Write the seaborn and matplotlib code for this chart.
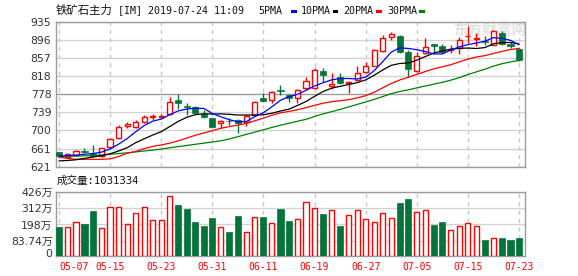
import matplotlib
matplotlib.use("Agg")
import matplotlib.pyplot as plt
from matplotlib.patches import Rectangle
import numpy as np
import pandas as pd
import seaborn as sns

# ---------------- data ----------------
opens = [652, 643, 646, 654, 650, 645, 663, 684, 710, 708,
         718, 728, 728, 735, 765, 752, 750, 735, 726, 715,
         721, 722, 718, 733, 770, 765, 787, 776, 769, 791,
         791, 829, 795, 815, 802, 809, 827, 840, 872, 901,
         905, 869, 829, 867, 886, 882, 873, 877, 903, 897,
         894, 885, 911, 886, 875]
highs = [653, 650, 658, 661, 668, 662, 684, 711, 717, 722,
         733, 735, 735, 771, 778, 758, 752, 744, 727, 722,
         726, 724, 733, 764, 780, 785, 798, 778, 789, 816,
         834, 834, 824, 824, 806, 838, 848, 876, 906, 913,
         906, 874, 870, 899, 887, 887, 884, 901, 926, 910,
         904, 918, 915, 892, 877]
lows = [643, 640, 645, 650, 643, 643, 661, 682, 705, 704,
        716, 722, 726, 733, 747, 733, 737, 726, 704, 704,
        711, 693, 709, 731, 762, 758, 776, 762, 758, 787,
        789, 805, 790, 800, 780, 806, 824, 838, 870, 896,
        868, 816, 826, 864, 867, 867, 867, 865, 888, 882,
        884, 884, 885, 877, 850]
closes = [645, 648, 656, 653, 645, 661, 682, 708, 713, 718,
          729, 730, 730, 762, 758, 750, 738, 728, 708, 721,
          719, 715, 731, 762, 763, 783, 785, 770, 787, 807,
          830, 820, 801, 802, 805, 824, 840, 874, 900, 908,
          870, 833, 861, 880, 882, 870, 876, 895, 904, 899,
          890, 915, 886, 883, 852]

ma5 = [644, 645, 646, 648, 649.4, 652.6, 659.4, 669.8, 681.8, 696.4,
       710, 719.6, 724, 733.8, 741.8, 746, 747.6, 747.2, 736.4, 729,
       722.8, 718.2, 718.8, 729.6, 738, 750.8, 764.8, 772.6, 777.6, 786.4,
       795.8, 802.8, 809, 812, 812, 811, 815, 829, 848.6, 869.2,
       878.4, 877, 874.4, 870.4, 865.2, 865.2, 873.8, 880.6, 885.4, 888.8,
       892.8, 900.6, 898.8, 894.6, 885.2]
ma10 = [633.5, 634.5, 636, 639, 642, 645, 649, 655, 662, 672.9,
        681.3, 689.5, 696.9, 707.8, 719.1, 728, 733.6, 735.6, 735.1, 735.4,
        734.4, 732.9, 733, 733, 733.5, 736.8, 741.5, 745.7, 753.6, 762.2,
        773.3, 783.8, 791, 795, 799, 803, 809, 819, 830.5, 840.5,
        844.5, 845.5, 851.7, 859.5, 867.2, 871.8, 875.4, 877.5, 877.9, 877,
        879, 887.2, 889.7, 890, 887]
ma20 = [642, 639, 637, 637, 637, 637, 638, 643, 650, 654,
        660, 665, 668, 672, 677, 683, 689, 694, 699, 704.2,
        707.9, 711.2, 715, 720.4, 726.3, 732.4, 737.6, 740.7, 744.4, 748.8,
        753.9, 758.4, 761.8, 763.8, 766.1, 769.8, 774.9, 782.2, 791.8, 801.2,
        808.7, 814.6, 821.1, 827, 833, 837.3, 841.9, 848.1, 854, 858.6,
        861.6, 866.3, 870.7, 874.8, 877.1]
ma30 = [643, 643.5, 644, 644.5, 645, 646, 648, 649.5, 651, 653,
        655, 657, 659, 662, 664.5, 667, 669.5, 672, 674.5, 677,
        681, 686, 691, 696, 701, 706, 711, 715, 719.5, 723.5,
        729.7, 735.4, 740.1, 745.1, 750.4, 755.9, 761.1, 766.7, 772.9, 779.2,
        783.9, 787.4, 791.7, 795.7, 799.8, 803.8, 808.4, 814, 820.5, 826.4,
        832.1, 838.8, 844, 848, 851]

volumes = [182.7, 178.6, 213.3, 201.5, 291.9, 171.6, 317.6, 317.6, 199.4, 275.9,
           317.6, 227.2, 227.2, 394.0, 333.6, 305.8, 215.4, 187.6, 243.2, 178.6,
           145.9, 257.1, 143.8, 248.1, 250.2, 206.4, 305.8, 222.4, 234.2, 352.3,
           310.6, 271.0, 296.7, 187.6, 264.0, 296.7, 234.2, 213.3, 275.9, 241.1,
           347.5, 375.3, 282.8, 296.7, 194.6, 215.4, 157.7, 185.5, 206.4, 185.5,
           90.3, 102.1, 104.2, 90.3, 104.2]  # 万

date_labels = ['05-07', '05-15', '05-23', '05-31', '06-11',
               '06-19', '06-27', '07-05', '07-15', '07-23']
price_ticks = [621, 660.25, 699.5, 738.75, 778, 817.25, 856.5, 895.75, 935]
price_tick_labels = ['621', '661', '700', '739', '778', '818', '857', '896', '935']
vol_ticks = [0, 83.74, 198, 312, 426]
vol_tick_labels = ['0', '83.74万', '198万', '312万', '426万']
title_cn = '铁矿石主力'
title_rest = '[IM] 2019-07-24 11:09'
ma_names = ['5PMA', '10PMA', '20PMA', '30PMA']
vol_text = '成交量:1031334'

assert len(opens) == len(highs) == len(lows) == len(closes) == len(volumes) == 55
assert len(ma5) == len(ma10) == len(ma20) == len(ma30) == 55

# ---------------- style ----------------
sns.set_style('white')
plt.rcParams['font.family'] = ['DejaVu Sans', 'Noto Sans CJK SC']

RED = '#ff0000'
GREEN = '#04743a'
MA_COLORS = ['#0000ff', '#000000', '#ff0000', '#008000']
W, H = 578, 276


def rect(l, t, r, b):
    return [l / W, 1 - b / H, (r - l) / W, (b - t) / H]


fig = plt.figure(figsize=(W / 100, H / 100), dpi=100)
ax = fig.add_axes(rect(55.5, 21.7, 525, 166.7))
axv = fig.add_axes(rect(55.5, 191.7, 525, 256))

x = np.arange(len(closes))
o = np.array(opens, float)
c = np.array(closes, float)
hi = np.array(highs, float)
lo = np.array(lows, float)
up = c >= o
XMIN, XMAX = -0.4, 54.7

# ---------------- candles ----------------
for i in x:
    ax.vlines(i, lo[i], hi[i], color=RED if up[i] else GREEN, lw=1, zorder=2)
bottoms = np.minimum(o, c)
heights = np.maximum(np.abs(c - o), 0.8)
ax.bar(x[up], heights[up], bottom=bottoms[up], width=0.6,
       facecolor='white', edgecolor=RED, lw=1, zorder=3)
ax.bar(x[~up], heights[~up], bottom=bottoms[~up], width=0.72,
       facecolor=GREEN, edgecolor=GREEN, lw=0.5, zorder=3)

df = pd.DataFrame({'idx': x, 'MA5': ma5, 'MA10': ma10, 'MA20': ma20, 'MA30': ma30})
for name, col in zip(['MA30', 'MA20', 'MA10', 'MA5'], MA_COLORS[::-1]):
    sns.lineplot(data=df, x='idx', y=name, ax=ax, color=col, lw=0.9, zorder=4, legend=False)

ax.set_xlim(XMIN, XMAX)
ax.set_ylim(price_ticks[0], price_ticks[-1])
ax.set_yticks(price_ticks, price_tick_labels)
tick_pos = [6 * k for k in range(len(date_labels))]
ax.set_xticks(tick_pos, [])
ax.set_xlabel('')
ax.set_ylabel('')
ax.set_axisbelow(True)
ax.grid(axis='y', color='#d2d2d2', lw=1, ls='-')
ax.grid(axis='x', color='#c8c8c8', lw=1, ls=(0, (3, 3)))
ax.get_ygridlines()[4].set_color('#9c9c9c')
ax.tick_params(length=0, labelsize=7.8, colors='#333333', pad=3)
for s in ax.spines.values():
    s.set_color('#9c9c9c')
    s.set_linewidth(1)

ax.text(0.925, 0.94, '东方财富网', transform=ax.transAxes, ha='center', va='center',
        color='#e2e2e2', fontsize=10.5, family='Noto Sans CJK SC', weight='bold', zorder=1)

# ---------------- volume ----------------
VOL_FLOOR = -21
vol = np.array(volumes)
axv.bar(x[up], vol[up] - VOL_FLOOR, bottom=VOL_FLOOR, width=0.6,
        facecolor='white', edgecolor=RED, lw=1, zorder=3)
axv.bar(x[~up], vol[~up] - VOL_FLOOR, bottom=VOL_FLOOR, width=0.72,
        facecolor=GREEN, edgecolor=GREEN, lw=0.5, zorder=3)
axv.set_xlim(XMIN, XMAX)
axv.set_ylim(VOL_FLOOR, vol_ticks[-1])
axv.set_yticks(vol_ticks, vol_tick_labels)
axv.set_xticks(tick_pos, date_labels)
axv.set_axisbelow(True)
axv.grid(axis='y', color='#d2d2d2', lw=1, ls='-')
axv.grid(axis='x', color='#c8c8c8', lw=1, ls=(0, (3, 3)))
axv.get_ygridlines()[0].set_visible(False)
axv.tick_params(axis='y', length=0, labelsize=7.8, colors='#333333', pad=2)
axv.tick_params(axis='x', length=0, pad=4)
for lab in axv.get_xticklabels():
    lab.set_color(RED)
    lab.set_family('DejaVu Sans Mono')
    lab.set_fontsize(7.0)
axv.get_xticklabels()[0].set_ha('left')
for s in axv.spines.values():
    s.set_color('#9c9c9c')
    s.set_linewidth(1)

# ---------------- header texts ----------------
ty = 1 - 10.5 / H
fig.text(56 / W, ty, title_cn, family='Noto Sans CJK SC', fontsize=8.2, va='center', color='#111111')
fig.text(118 / W, ty, title_rest, family='DejaVu Sans Mono', fontsize=7.2, va='center', color='#111111')
name_x = [258, 301, 343, 387]
mark_x = [291, 333, 376, 419]
for nm, nx, mx, col in zip(ma_names, name_x, mark_x, MA_COLORS):
    fig.text(nx / W, ty, nm, family='DejaVu Sans Mono', fontsize=7.2, va='center', color='#111111')
    fig.add_artist(Rectangle((mx / W, 1 - 12.5 / H), 5.5 / W, 2.5 / H,
                             transform=fig.transFigure, color=col, lw=0))

fig.text(57 / W, 1 - 180.5 / H, vol_text, family=['DejaVu Sans Mono', 'Noto Sans CJK SC'],
         fontsize=7.6, va='center', color='#111111')

fig.savefig('out.png', dpi=100)
